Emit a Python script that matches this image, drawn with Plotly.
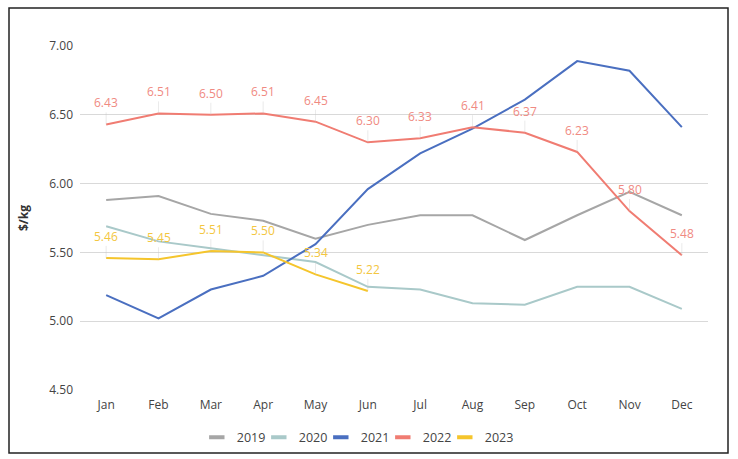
import plotly.graph_objects as go

months = ["Jan", "Feb", "Mar", "Apr", "May", "Jun", "Jul", "Aug", "Sep", "Oct", "Nov", "Dec"]
y2019 = [5.88, 5.91, 5.78, 5.73, 5.60, 5.70, 5.77, 5.77, 5.59, 5.77, 5.94, 5.77]
y2020 = [5.69, 5.58, 5.53, 5.48, 5.43, 5.25, 5.23, 5.13, 5.12, 5.25, 5.25, 5.09]
y2021 = [5.19, 5.02, 5.23, 5.33, 5.56, 5.96, 6.22, 6.40, 6.61, 6.89, 6.82, 6.41]
y2022 = [6.43, 6.51, 6.50, 6.51, 6.45, 6.30, 6.33, 6.41, 6.37, 6.23, 5.80, 5.48]
y2023 = [5.46, 5.45, 5.51, 5.50, 5.34, 5.22]
tick_vals = [4.5, 5.0, 5.5, 6.0, 6.5, 7.0]

series = [
    ("2019", y2019, "#a6a6a6"),
    ("2020", y2020, "#a9c9c9"),
    ("2021", y2021, "#4a6fc0"),
    ("2022", y2022, "#f07c72"),
    ("2023", y2023, "#f5c52c"),
]

FONT = "Open Sans"
fig = go.Figure()
for name, ys, col in series:
    fig.add_trace(go.Scatter(x=months[:len(ys)], y=ys, name=name, mode="lines",
                             line=dict(color=col, width=2), showlegend=False))
for name, ys, col in series:
    fig.add_trace(go.Scatter(x=[None], y=[None], name=name, mode="markers",
                             marker=dict(symbol="line-ew-open", size=11, color=col,
                                         line=dict(color=col, width=4))))
# invisible spacer entry so the last legend label is not clipped
fig.add_trace(go.Scatter(x=[None], y=[None], name=" ", mode="markers",
                         marker=dict(color="rgba(0,0,0,0)", size=1,
                                     line=dict(width=0, color="rgba(0,0,0,0)")),
                         hoverinfo="skip"))

annotations = []
for ys, col in [(y2022, "#f08a82"), (y2023, "#f3c641")]:
    for m, v in zip(months, ys):
        annotations.append(dict(x=m, y=v, xref="x", yref="y", text=f"{v:.2f}",
                                showarrow=True, arrowhead=0, arrowwidth=0.6,
                                arrowcolor="rgba(200,200,200,0.6)", ax=0, ay=-12,
                                font=dict(family=FONT, size=12, color=col),
                                yanchor="bottom", borderpad=0))

fig.update_layout(
    width=738, height=459,
    margin=dict(l=80, r=30, t=46, b=69, autoexpand=False),
    paper_bgcolor="white", plot_bgcolor="white",
    font=dict(family=FONT, size=12, color="#444444"),
    xaxis=dict(type="category", range=[-0.5, 11.5], showgrid=False, showline=False,
               ticks="", automargin=False, ticklabelstandoff=6,
               tickfont=dict(size=12, color="#444444")),
    yaxis=dict(range=[4.5, 7.0], tickvals=tick_vals, tickformat=".2f",
               gridcolor="#d9d9d9", gridwidth=1, zeroline=False, showline=False,
               ticks="", ticklabelstandoff=6, automargin=False,
               title=dict(text="<b>$/kg</b>", font=dict(size=12, color="#333333"), standoff=18),
               tickfont=dict(size=12, color="#444444")),
    legend=dict(orientation="h", x=0.186, xanchor="left", y=-0.095, yanchor="top",
                bgcolor="rgba(0,0,0,0)", font=dict(size=12.5, color="#444444"),
                itemwidth=30, tracegroupgap=0, entrywidth=17, entrywidthmode="pixels"),
    annotations=annotations,
    shapes=[dict(type="rect", xref="paper", yref="paper",
                 x0=(9 - 80) / 628, x1=(728 - 80) / 628,
                 y0=(390 - 453) / 344, y1=(390 - 8) / 344,
                 line=dict(color="#222222", width=1.5), layer="below")],
)

fig.write_html("out.html", config={"displayModeBar": False},
               post_script="document.body.style.margin='0px';document.body.style.overflow='hidden';")
